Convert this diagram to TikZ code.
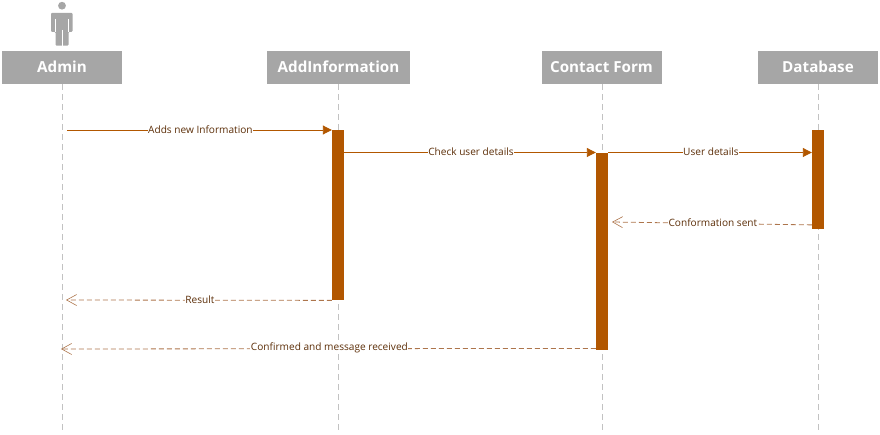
\documentclass[tikz,border=0pt]{standalone}
\usepackage{fontspec}
\setmainfont{Open Sans}
\usetikzlibrary{arrows.meta}
\definecolor{cgrey}{rgb}{0.65, 0.65, 0.65}
\definecolor{cline}{rgb}{0.76, 0.76, 0.76}
\definecolor{cbar}{rgb}{0.7, 0.34, 0.0}
\definecolor{cret}{rgb}{0.68, 0.46, 0.3}
\definecolor{ctext}{rgb}{0.36, 0.18, 0.03}
\tikzset{
  head/.style={fill=cgrey, text=white, minimum height=33pt, inner sep=0pt, text height=11pt, text depth=0pt, font=\fontsize{15.2}{15.2}\bfseries\selectfont},
  bar/.style={fill=cbar, minimum width=12pt, inner sep=0pt, anchor=north},
  lifeline/.style={cline, line width=0.8pt, dash pattern=on 6pt off 4pt},
  msg/.style={cbar, line width=0.9pt, -{Triangle[length=9pt, width=9pt]}},
  reply/.style={cret, line width=0.8pt, dash pattern=on 5pt off 3pt, -{Straight Barb[length=10pt, width=11pt, line width=0.6pt]}},
  lbl/.style={midway, fill=white, text=ctext, xshift=1pt, yshift=0.8pt, inner xsep=0.5pt, inner ysep=1pt, font=\fontsize{10.1}{10.1}\selectfont}
}

\begin{document}
\begin{tikzpicture}[x=1pt, y=-1pt]
  \useasboundingbox (0, 0) rectangle (880, 435);

  % actor
  \fill [cgrey] (62, 5.7) circle (3.9);
  \fill [cgrey, rounded corners=1pt] (51, 13) -- (72.5, 13) -- (72.5, 32) -- (68.5, 32) -- (68.5, 45.7) -- (55.5, 45.7) -- (55.5, 32) -- (51, 32) -- cycle;
  \draw [white, line width=0.5pt] (55, 19) -- (55, 32) (68.7, 19) -- (68.7, 32) (62, 30) -- (62, 45.7);

  % header boxes
  \node [head, minimum width=120pt] (admin) at (62, 67.5) {Admin};
  \node [head, minimum width=143pt] (addinfo) at (338.5, 67.5) {AddInformation};
  \node [head, minimum width=120pt] (contact) at (601.5, 67.5) {Contact Form};
  \node [head, minimum width=120pt] (database) at (818, 67.5) {Database};

  % life lines
  \foreach \n/\x in {admin/62, addinfo/338, contact/602, database/818} {
    \coordinate (\n end) at (\x, 433);
    \draw [lifeline] (\n.south -| \n end) -- (\n end);
  }

  % activation bars
  \node [bar, minimum height=170pt] (addbar) at (338, 130) {};
  \node [bar, minimum height=197pt] (contactbar) at (602, 152.5) {};
  \node [bar, minimum height=99pt] (databar) at (818, 130) {};

  % free ends on the admin side
  \coordinate (adminout) at (67, 130);
  \coordinate (adminres) at (66, 300);
  \coordinate (adminconf) at (61, 349);
  \coordinate (conftip) at (612, 222);

  % calls
  \draw [msg] (adminout) -- (addbar.north west) node [lbl] {Adds new Information};
  \draw [msg] (addbar.east |- contactbar.north) -- (contactbar.north west) node [lbl] {Check user details};
  \draw [msg] (contactbar.north east) -- (databar.west |- contactbar.north) node [lbl] {User details};

  % replies
  \draw [reply] (databar.south west) ++(0, -4.5) -- (conftip) node [lbl] {Conformation sent};
  \draw [reply] (addbar.south west) -- (adminres) node [lbl] {Result};
  \draw [reply] (contactbar.south west) ++(0, -1.5) -- (adminconf) node [lbl] {Confirmed and message received};
\end{tikzpicture}
\end{document}
